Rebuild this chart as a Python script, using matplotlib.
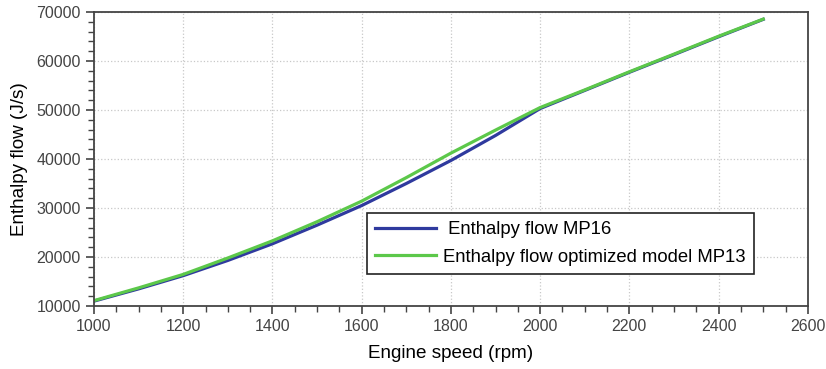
import matplotlib
matplotlib.use("Agg")
import matplotlib.pyplot as plt
from matplotlib.ticker import MultipleLocator

speed = [1000, 1100, 1200, 1300, 1400, 1500, 1600, 1700, 1800, 1900, 2000,
         2100, 2200, 2300, 2400, 2500]
mp16 = [11000, 13500, 16200, 19300, 22700, 26500, 30500, 35000, 39700, 44800,
        50300, 54000, 57700, 61300, 64950, 68500]
mp13 = [11100, 13700, 16450, 19800, 23300, 27200, 31400, 36200, 41200, 45900,
        50500, 54100, 57800, 61400, 65050, 68550]
labels = [" Enthalpy flow MP16", "Enthalpy flow optimized model MP13"]

plt.rcParams['font.family'] = ['Liberation Sans', 'DejaVu Sans']

fig = plt.figure(figsize=(8.26, 3.69), dpi=100)
ax = fig.add_axes([0.1138, 0.1707, 0.978 - 0.1138, 0.9675 - 0.1707])

ax.plot(speed, mp16, color='#2f3a9e', lw=2.3, label=labels[0])
ax.plot(speed, mp13, color='#5cc84a', lw=2.3, label=labels[1])

ax.set_xlim(1000, 2600)
ax.set_ylim(10000, 70000)
ax.xaxis.set_major_locator(MultipleLocator(200))
ax.xaxis.set_minor_locator(MultipleLocator(50))
ax.yaxis.set_major_locator(MultipleLocator(10000))
ax.yaxis.set_minor_locator(MultipleLocator(2000))
ax.tick_params(which='major', direction='out', length=6, width=1.2, color='#444444',
               labelsize=11.5, labelcolor='#444444')
ax.tick_params(which='minor', direction='out', length=4, width=1.0, color='#444444')
ax.grid(True, which='major', color='#c8c8c8', linestyle=':', linewidth=0.9)
for s in ax.spines.values():
    s.set_color('#444444')
    s.set_linewidth(1.3)

ax.set_xlabel("Engine speed (rpm)", fontsize=13.6, color='black', labelpad=8)
ax.set_ylabel("Enthalpy flow (J/s)", fontsize=13.6, color='black', labelpad=6)

leg = ax.legend(loc='upper left', bbox_to_anchor=(0.382, 0.316), borderaxespad=0,
                fontsize=13.3, frameon=True, fancybox=False, edgecolor='#222222',
                handlelength=3.3, handletextpad=0.4, borderpad=0.45, labelspacing=0.55)
leg.get_frame().set_linewidth(1.2)
leg.get_frame().set_alpha(1)

fig.savefig("out.png", dpi=100)
